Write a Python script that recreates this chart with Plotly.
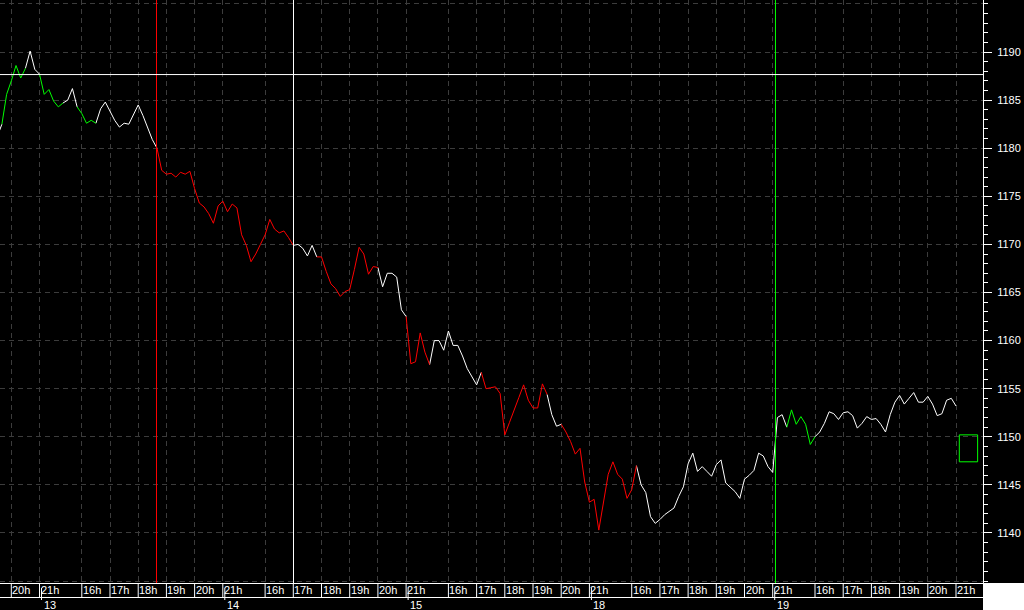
import plotly.graph_objects as go

# ---------------- data ----------------
OPEN_HOUR = 15.5          # session opens 15:30
SESSION_LEN = 6.5         # 15:30 -> 22:00
STEP_MIN = 10             # bar spacing in minutes

session_first_bar = ["19:30", "15:30", "15:30", "15:30", "15:30", "15:30"]

prices_s0 = [1181.2, 1182.5, 1185.6, 1187.0, 1188.6, 1187.3, 1188.3, 1190.1, 1188.2, 1187.7,
             1185.6, 1186.1, 1184.9, 1184.3, 1184.7]
colors_s0 = "wgggggwwwgggggw"

prices_s1 = [1185.0, 1186.2, 1184.3, 1183.6, 1182.6, 1182.9, 1182.6, 1184.1, 1184.8, 1183.8,
             1182.9, 1182.2, 1182.6, 1182.5, 1183.5, 1184.5, 1183.4, 1182.1, 1180.9, 1180.0,
             1177.7, 1177.3, 1177.4, 1177.0, 1177.5, 1177.3, 1177.6, 1175.8, 1174.3, 1173.9,
             1173.2, 1172.2, 1174.0, 1174.5, 1173.4, 1174.2, 1173.8, 1171.0, 1169.9]
colors_s1 = "ww" + "gggg" + "w" * 13 + "r" * 20

prices_s2 = [1168.2, 1169.0, 1170.0, 1171.0, 1172.6, 1171.6, 1171.2, 1171.4, 1170.7, 1169.9,
             1170.0, 1169.6, 1168.8, 1169.9, 1168.7, 1168.7, 1167.2, 1165.9, 1165.4, 1164.6,
             1165.1, 1165.3, 1167.4, 1169.7, 1169.0, 1166.9, 1167.7, 1167.6, 1165.6, 1167.0,
             1167.0, 1166.6, 1163.2, 1162.5, 1157.6, 1157.8, 1160.8, 1158.8, 1157.5]
colors_s2 = "r" * 9 + "w" * 5 + "r" * 13 + "w" * 6 + "r" * 5 + "w"

prices_s3 = [1160.0, 1160.0, 1159.0, 1161.0, 1159.5, 1159.5, 1158.4, 1157.1, 1156.2, 1155.4,
             1156.7, 1155.0, 1155.1, 1155.2, 1154.5, 1150.2, 1151.5, 1152.9, 1154.1, 1155.4,
             1153.8, 1153.0, 1153.0, 1155.5, 1154.4, 1152.3, 1151.1, 1151.3, 1150.5, 1149.5,
             1148.2, 1148.8, 1145.3, 1143.2, 1143.5, 1140.3, 1143.2, 1146.1, 1147.4]
colors_s3 = "w" * 10 + "r" * 14 + "w" * 3 + "r" * 12

prices_s4 = [1146.1, 1145.6, 1143.6, 1144.5, 1147.0, 1145.0, 1144.2, 1141.7, 1141.0, 1141.4,
             1141.9, 1142.3, 1142.6, 1143.8, 1144.8, 1147.2, 1148.3, 1146.4, 1146.9, 1146.4,
             1145.9, 1147.1, 1147.6, 1145.2, 1144.8, 1144.3, 1143.6, 1145.6, 1146.0, 1146.5,
             1148.3, 1148.0, 1146.9, 1146.3, 1152.0, 1152.3, 1151.0, 1152.8, 1151.3]
colors_s4 = "rrrr" + "w" * 32 + "ggg"

prices_s5 = [1152.1, 1151.3, 1149.2, 1150.0, 1150.5, 1151.4, 1152.6, 1152.4, 1151.8, 1152.5,
             1152.6, 1152.2, 1150.9, 1151.4, 1152.1, 1151.8, 1151.9, 1151.3, 1150.5, 1152.3,
             1153.6, 1154.3, 1153.4, 1154.0, 1154.6, 1153.6, 1153.6, 1154.2, 1153.4, 1152.2,
             1152.4, 1153.8, 1154.0, 1153.2]
colors_s5 = "ggg" + "w" * 31

session_prices = [prices_s0, prices_s1, prices_s2, prices_s3, prices_s4, prices_s5]
session_colors = [colors_s0, colors_s1, colors_s2, colors_s3, colors_s4, colors_s5]

# axis ticks
hour_ticks = [[20, 21], [16, 17, 18, 19, 20, 21], [16, 17, 18, 19, 20, 21],
              [16, 17, 18, 19, 20, 21], [16, 17, 18, 19, 20, 21], [16, 17, 18, 19, 20, 21]]
day_labels = ["13", "14", "15", "18", "19"]        # shown at 21h of sessions 0..4
price_ticks = [1135, 1140, 1145, 1150, 1155, 1160, 1165, 1170, 1175, 1180, 1185, 1190, 1195]
price_labels = ["", "1140", "1145", "1150", "1155", "1160", "1165", "1170", "1175", "1180",
                "1185", "1190", ""]
minor_price_ticks = list(range(1135, 1196))

# markers (session, time, colour)
vlines = [(1, "18:38.9", "#ff0000"), (2, "17:00.4", "#ffffff"), (4, "21:05.9", "#00ff00")]
hline_price = 1187.66
box = dict(session=5, start="21:07", end="21:46", low=1147.4, high=1150.2)

X_RANGE = [4.099, 38.957]
Y_RANGE = [1134.80, 1195.41]

COLOR_MAP = {"w": "#ffffff", "r": "#ff0000", "g": "#00ff00"}


def t_of(session, hhmm):
    h, m = hhmm.split(":")
    return session * SESSION_LEN + (int(h) + float(m) / 60.0 - OPEN_HOUR)


# ---------------- build series ----------------
all_t, all_p, all_c = [], [], []
for k, (first, ps, cs) in enumerate(zip(session_first_bar, session_prices, session_colors)):
    t0 = t_of(k, first)
    for j, (p, c) in enumerate(zip(ps, cs)):
        all_t.append(t0 + j * STEP_MIN / 60.0)
        all_p.append(p)
        all_c.append(c)

seg = {c: ([], []) for c in COLOR_MAP}
i = 0
n = len(all_p)
while i < n - 1:
    c = all_c[i]
    j = i
    while j < n - 1 and all_c[j] == c:
        j += 1
    xs, ys = seg[c]
    xs.extend(all_t[i:j + 1] + [None])
    ys.extend(all_p[i:j + 1] + [None])
    i = j

fig = go.Figure()
for c in ["w", "g", "r"]:
    xs, ys = seg[c]
    fig.add_trace(go.Scatter(x=xs, y=ys, mode="lines", line=dict(color=COLOR_MAP[c], width=1),
                             hoverinfo="skip", showlegend=False))

# ---------------- geometry helpers ----------------
PLOT_H = 583.0
def py(pix_below):   # pixels below plot bottom -> paper fraction
    return -pix_below / PLOT_H

hour_t = []
hour_txt = []
for k, hs in enumerate(hour_ticks):
    for h in hs:
        hour_t.append(t_of(k, f"{h}:00"))
        hour_txt.append(f"{h}h")

shapes = []
annotations = []
label_font = dict(color="white", size=11, family="Liberation Sans, Arial, sans-serif")

# separators and hour labels in the time bar
for t, txt in zip(hour_t, hour_txt):
    shapes.append(dict(type="line", xref="x", yref="paper", x0=t, x1=t, y0=0, y1=py(14.7),
                       line=dict(color="white", width=1)))
    annotations.append(dict(x=t, y=py(7.4), xref="x", yref="paper", text=txt, showarrow=False,
                            xanchor="left", yanchor="middle", xshift=-1, font=label_font))
# second horizontal rule of the time bar
shapes.append(dict(type="line", xref="paper", yref="paper", x0=0, x1=1, y0=py(14.5), y1=py(14.5),
                   line=dict(color="white", width=1)))
# day markers
for k, d in enumerate(day_labels):
    t = t_of(k, "21:00")
    shapes.append(dict(type="line", xref="x", yref="paper", xsizemode="pixel", xanchor=t,
                       x0=2, x1=2, y0=py(5), y1=py(17), line=dict(color="white", width=1)))
    annotations.append(dict(x=t, y=py(22), xref="x", yref="paper", text=d, showarrow=False,
                            xanchor="left", yanchor="middle", xshift=2, font=label_font))

# vertical marker lines
for k, hhmm, col in vlines:
    t = t_of(k, hhmm)
    shapes.append(dict(type="line", xref="x", yref="paper", x0=t, x1=t, y0=0, y1=1,
                       line=dict(color=col, width=1)))
# horizontal level
shapes.append(dict(type="line", xref="paper", yref="y", x0=0, x1=1, y0=hline_price, y1=hline_price,
                   line=dict(color="white", width=1)))
# green box
shapes.append(dict(type="rect", xref="x", yref="y",
                   x0=t_of(box["session"], box["start"]), x1=t_of(box["session"], box["end"]),
                   y0=box["low"], y1=box["high"], line=dict(color="#00ff00", width=1),
                   fillcolor="rgba(0,0,0,0)"))
# white corner below the price scale
shapes.append(dict(type="rect", xref="paper", yref="paper", x0=1, x1=1 + 41 / 983.0, y0=0,
                   y1=py(27), fillcolor="white", line=dict(width=0)))

grid_col = "#3c3c3c"
fig.update_layout(
    width=1024, height=610,
    margin=dict(l=0, r=41, t=0, b=27, pad=0),
    paper_bgcolor="black", plot_bgcolor="black",
    showlegend=False, hovermode=False,
    xaxis=dict(range=X_RANGE, tickmode="array", tickvals=hour_t, showticklabels=False,
               ticks="", showgrid=True, gridcolor=grid_col, griddash="5px,4px", gridwidth=1,
               showline=True, linecolor="white", linewidth=1, zeroline=False, fixedrange=True),
    yaxis=dict(range=Y_RANGE, side="right", tickmode="array", tickvals=price_ticks,
               ticktext=price_labels, ticks="outside", ticklen=8, tickwidth=1, tickcolor="white",
               showline=True, linecolor="white", linewidth=1, showgrid=True,
               gridcolor=grid_col, griddash="5px,4px", gridwidth=1, zeroline=False,
               tickfont=label_font, ticklabelstandoff=3, fixedrange=True,
               minor=dict(tickmode="array", tickvals=minor_price_ticks, ticks="outside",
                          ticklen=4, tickwidth=1, tickcolor="white", showgrid=False)),
    shapes=shapes,
    annotations=annotations,
)

fig.write_html("out.html", config={"displayModeBar": False, "staticPlot": True},
               post_script="document.body.style.margin='0';document.body.style.overflow='hidden';")
